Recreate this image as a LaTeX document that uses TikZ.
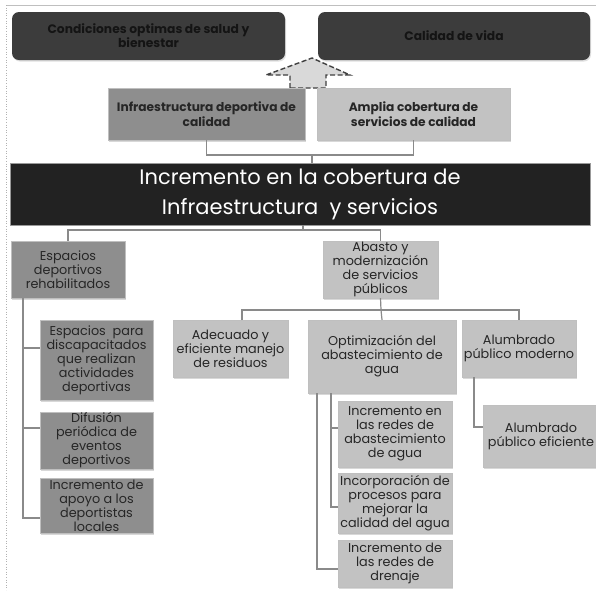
\documentclass[tikz,border=0pt]{standalone}
\usepackage{fontspec}
\setmainfont{Poppins}
\usetikzlibrary{shadows}
\definecolor{topdark}{HTML}{3C3C3C}
\definecolor{bannerc}{HTML}{222222}
\definecolor{gA}{HTML}{8E8E8E}
\definecolor{gB}{HTML}{C2C2C2}
\definecolor{lineg}{HTML}{8A8A8A}
\definecolor{textc}{HTML}{262626}
\tikzset{
  dkbox/.style={rounded corners=7pt, fill=topdark, draw=none, align=center,
    font=\bfseries\fontsize{12.3}{14}\selectfont, text=black!92, inner sep=1pt,
    drop shadow={opacity=0.25, shadow xshift=1pt, shadow yshift=-1.5pt}},
  bx/.style={draw=black!25, line width=0.4pt, align=center, text=textc, inner sep=0pt,
    font=\fontsize{12.8}{14}\selectfont,
    drop shadow={opacity=0.3, shadow xshift=1pt, shadow yshift=-1.5pt}},
  bxA/.style={bx, fill=gA},
  bxB/.style={bx, fill=gB},
  topA/.style={bxA, font=\bfseries\fontsize{12.2}{15}\selectfont},
  topB/.style={bxB, font=\bfseries\fontsize{12.2}{15}\selectfont},
  conn/.style={draw=lineg, line width=1.2pt},
  banner/.style={fill=bannerc, draw=black!40, text=white, align=center,
    font=\fontsize{21}{30}\selectfont}
}
\begin{document}
\begin{tikzpicture}[x=1pt,y=-1pt]
\useasboundingbox (0,0) rectangle (596,590);
\fill[white] (0,0) rectangle (596,590);
% faint frame
\draw[black!25, line width=0.8pt] (6,5) -- (596,5);
\draw[black!30, line width=0.6pt, dotted] (6,5) -- (6,590);

% top result boxes
\node[dkbox, minimum width=273pt, minimum height=48pt] (cond) at (148.5,36)
  {Condiciones optimas de salud y\\bienestar};
\node[dkbox, minimum width=272pt, minimum height=48pt] (cal) at (454,36)
  {Calidad de vida};

% dashed arrow
\draw[fill=black!15, draw=black!75, line width=1.4pt, dash pattern=on 5pt off 2.5pt]
  (290,88) -- (290,75) -- (266,75) -- (312,58) -- (350,75) -- (326,75) -- (326,88) -- cycle;

% second level
\node[topA, minimum width=197pt, minimum height=52pt] (infra) at (206.5,114)
  {Infraestructura deportiva de\\calidad};
\node[topB, minimum width=193pt, minimum height=52pt] (amplia) at (413.5,114)
  {Amplia cobertura de\\servicios de calidad};

% banner
\node[banner, minimum width=580pt, minimum height=62pt] (ban) at (300,194)
  {Incremento en la cobertura de\\Infraestructura\ \ y servicios};

% level 3
\node[bxA, minimum width=114pt, minimum height=57pt] (esp) at (68,269.5)
  {Espacios\\deportivos\\rehabilitados};
\node[bxB, minimum width=115pt, minimum height=57pt] (abasto) at (380.5,269.5)
  {Abasto y\\modernización\\de servicios\\públicos};

% children of abasto
\node[bxB, minimum width=115pt, minimum height=57pt] (adec) at (230.5,348.5)
  {Adecuado y\\eficiente manejo\\de residuos};
\node[bxB, minimum width=148pt, minimum height=73pt] (opt) at (382,356.5)
  {Optimización del\\abastecimiento de\\agua};
\node[bxB, minimum width=114pt, minimum height=57pt] (alum) at (519,348.5)
  {Alumbrado\\público moderno};
\node[bxB, minimum width=116pt, minimum height=62pt] (alume) at (541,436)
  {Alumbrado\\público eficiente};

% children of opt
\node[bxB, minimum width=114pt, minimum height=66pt] (incr) at (395,434)
  {Incremento en\\las redes de\\abastecimiento\\de agua};
\node[bxB, minimum width=114pt, minimum height=60pt] (incorp) at (395,503)
  {Incorporación de\\procesos para\\mejorar la\\calidad del agua};
\node[bxB, minimum width=114pt, minimum height=47pt] (dren) at (395,563.5)
  {Incremento de\\las redes de\\drenaje};

% children of esp
\node[bxA, minimum width=113pt, minimum height=80pt] (disc) at (96.5,360)
  {Espacios\ \ para\\discapacitados\\que realizan\\actividades\\deportivas};
\node[bxA, minimum width=113pt, minimum height=57pt] (difu) at (96.5,440.5)
  {Difusión\\periódica de\\eventos\\deportivos};
\node[bxA, minimum width=113pt, minimum height=55pt] (apoyo) at (96.5,505.5)
  {Incremento de\\apoyo a los\\deportistas\\locales};

% junction coordinates
\coordinate (j1) at (312,155);
\coordinate (j2) at (303,230);
\coordinate (j3) at (381,310);
\coordinate (adtop) at (242,320);
\coordinate (ek) at (23,298);
\coordinate (e1) at (40,348);
\coordinate (e2) at (40,428);
\coordinate (e3) at (40,518);
\coordinate (oi) at (331,393);
\coordinate (oo) at (317,393);
\coordinate (o1) at (338,428);
\coordinate (o2) at (338,507);
\coordinate (o3) at (338,569);
\coordinate (ak) at (474,377);
\coordinate (a1) at (483,427);

% connectors
\draw[conn] (infra.south) |- (j1) -| (amplia.south);
\draw[conn] (j1) -- (ban.north -| j1);
\draw[conn] (ban.south -| j2) -- (j2);
\draw[conn] (esp.north) |- (j2) -| (abasto.north);
\draw[conn] (abasto.south) -- (j3);
\draw[conn] (adtop) |- (j3) -| (alum.north);
\draw[conn] (j3) -- (opt.north);
\draw[conn] (ek) |- (e1);
\draw[conn] (ek) |- (e2);
\draw[conn] (ek) |- (e3);
\draw[conn] (oi) |- (o1);
\draw[conn] (oi) |- (o2);
\draw[conn] (oo) |- (o3);
\draw[conn] (ak) |- (a1);
\end{tikzpicture}
\end{document}
